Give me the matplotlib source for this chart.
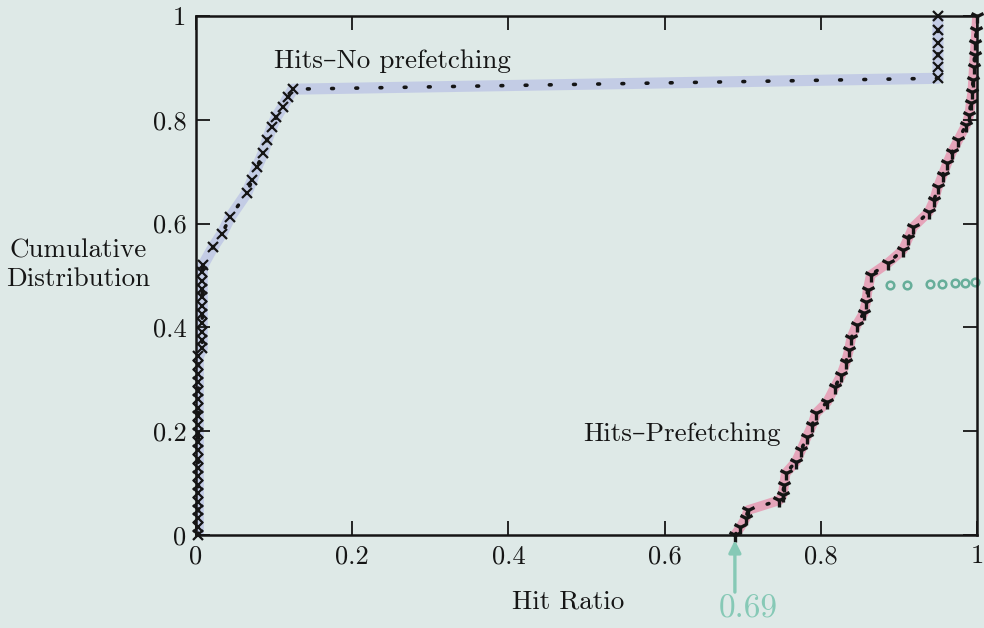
import matplotlib
matplotlib.use("Agg")
import matplotlib.pyplot as plt

# ==== Data ====
nopf_x = [0.003] * 22 + [0.008] * 10 + [0.009,
          0.022, 0.033, 0.044, 0.065, 0.072, 0.078, 0.086, 0.091, 0.097, 0.103, 0.111, 0.118, 0.124,
          0.950, 0.950, 0.950, 0.950, 0.950, 0.950]
nopf_y = [0.0, 0.016, 0.032, 0.048, 0.064, 0.08, 0.097, 0.113, 0.13, 0.146, 0.163,
          0.18, 0.196, 0.212, 0.229, 0.245, 0.262, 0.278, 0.295, 0.311, 0.328, 0.344,
          0.36, 0.376, 0.392, 0.409, 0.425, 0.441, 0.458, 0.474, 0.49, 0.507, 0.52,
          0.555, 0.58, 0.613, 0.659, 0.684, 0.709, 0.736, 0.761, 0.786, 0.806, 0.825, 0.844, 0.859,
          0.88, 0.902, 0.925, 0.948, 0.973, 1.0]

pf_x = [0.690, 0.697, 0.704, 0.707, 0.747, 0.751, 0.753, 0.755, 0.768, 0.775, 0.782, 0.789,
        0.794, 0.808, 0.818, 0.826, 0.832, 0.836, 0.839, 0.846, 0.855, 0.858, 0.860, 0.864,
        0.886, 0.905, 0.912, 0.918, 0.938, 0.945, 0.950, 0.956, 0.962, 0.968, 0.976, 0.986,
        0.990, 0.992, 0.994, 0.995, 0.996, 0.997, 0.998, 0.999, 1.0]
pf_y = [0.0, 0.015, 0.033, 0.048, 0.067, 0.077, 0.096, 0.119, 0.141, 0.164, 0.189, 0.212,
        0.235, 0.256, 0.285, 0.308, 0.333, 0.356, 0.380, 0.405, 0.428, 0.449, 0.472, 0.501,
        0.524, 0.549, 0.572, 0.593, 0.622, 0.645, 0.671, 0.694, 0.717, 0.738, 0.761, 0.79,
        0.809, 0.832, 0.854, 0.877, 0.902, 0.925, 0.948, 0.973, 1.0]

green_x = [0.889, 0.910, 0.940, 0.955, 0.972, 0.985, 0.997]
green_y = [0.482, 0.482, 0.484, 0.484, 0.485, 0.486, 0.487]

ticks = [0, 0.2, 0.4, 0.6, 0.8, 1]
tick_labels = ["0", "0.2", "0.4", "0.6", "0.8", "1"]

# ==== Style ====
paper = "#dee9e7"
ink = "#151515"
pen = "#86c9b6"
serif = ["cmr10", "DejaVu Serif"]
plt.rcParams["font.family"] = serif
plt.rcParams["axes.formatter.use_mathtext"] = True

fig = plt.figure(figsize=(9.84, 6.28), dpi=100, facecolor=paper)
ax = fig.add_axes([196 / 984, 1 - 535 / 628, 781 / 984, 519 / 628])
ax.set_facecolor(paper)

# highlighter strokes (hand annotation on the scan)
ax.plot(nopf_x, nopf_y, color="#a9b0e4", lw=8, alpha=0.5, solid_capstyle="round", zorder=1)
ax.plot(pf_x, pf_y, color="#e889a8", lw=7, alpha=0.7, solid_capstyle="round", zorder=1)

# the two printed curves
ax.plot(nopf_x, nopf_y, color=ink, lw=2.6, ls=(0, (0.5, 6.2)), dash_capstyle="round",
        marker="x", ms=7, mew=1.6, zorder=3, clip_on=False)
ax.plot(pf_x, pf_y, color=ink, lw=2.6, ls=(0, (0.5, 6.2)), dash_capstyle="round",
        marker="1", ms=10, mew=2.4, zorder=3, clip_on=False)
ax.plot(green_x, green_y, ls="none", marker="o", ms=5.5, mfc="none", mec="#3f9a80",
        mew=1.8, alpha=0.75, zorder=2, clip_on=False)

ax.set_xlim(0, 1)
ax.set_ylim(0, 1)
ax.set_xticks(ticks)
ax.set_xticklabels(tick_labels)
ax.set_yticks(ticks)
ax.set_yticklabels(tick_labels)
ax.tick_params(direction="in", length=10, width=1.3, labelsize=19, pad=7,
               top=True, right=True, colors=ink)
for s in ax.spines.values():
    s.set_linewidth(1.8)
    s.set_color(ink)

ax.text(0.1, 0.9, "Hits\u2013No prefetching", transform=ax.transAxes, fontsize=19.5,
        family=serif, color=ink)
ax.text(0.496, 0.182, "Hits\u2013Prefetching", transform=ax.transAxes, fontsize=19.5,
        family=serif, color=ink)

fig.text(78 / 984, 1 - 265 / 628, "Cumulative\nDistribution", ha="center", va="center",
         fontsize=19.5, linespacing=1.25, family=serif, color=ink)
fig.text(568 / 984, 1 - 602 / 628, "Hit Ratio", ha="center", va="center", fontsize=19.5,
         family=serif, color=ink)

# handwritten marker of the start of the prefetching curve
ax.annotate("", xy=(0.69, -0.01), xytext=(0.69, -0.11), annotation_clip=False,
            arrowprops=dict(arrowstyle="-|>", color=pen, lw=2.4, shrinkA=0, shrinkB=0,
                            mutation_scale=18))
ax.text(0.707, -0.158, "0.69", ha="center", va="baseline", fontsize=24, color=pen,
        clip_on=False)

fig.savefig("out.png", dpi=100, facecolor=paper)
